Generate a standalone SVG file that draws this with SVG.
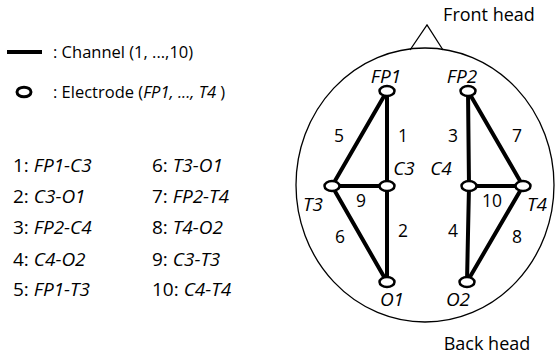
<svg xmlns="http://www.w3.org/2000/svg" width="557" height="361" viewBox="0 0 557 361">
<style>
text{font-family:"Open Sans","Liberation Sans",sans-serif;fill:#000}
.i{font-style:italic}
.lg{font-size:16.5px}
.ls{font-size:19px}
.hd{font-size:18px}
.lb{font-size:19px;font-style:italic}
.nm{font-size:17.5px}
.ch{stroke:#000;stroke-width:4;stroke-linecap:round;fill:none}
.el{fill:#fff;stroke:#000;stroke-width:2.5}
.head{fill:none;stroke:#000;stroke-width:1.3}
</style>
<rect width="557" height="361" fill="#fff"/>
<g id="legend">
<line x1="7" y1="52" x2="42" y2="52" stroke="#000" stroke-width="4"/>
<text class="lg" x="53" y="58">: Channel (1, ...,10)</text>
<ellipse cx="24" cy="92" rx="7" ry="4.8" fill="#fff" stroke="#000" stroke-width="3"/>
<text class="lg" x="53" y="98">: Electrode (<tspan class="i">FP1, ..., T4</tspan> )</text>
</g>
<g id="channel-list">
<text class="ls" x="13" y="172">1: <tspan class="i">FP1-C3</tspan></text>
<text class="ls" x="13" y="203">2: <tspan class="i">C3-O1</tspan></text>
<text class="ls" x="13" y="234">3: <tspan class="i">FP2-C4</tspan></text>
<text class="ls" x="13" y="266">4: <tspan class="i">C4-O2</tspan></text>
<text class="ls" x="13" y="296">5: <tspan class="i">FP1-T3</tspan></text>
<text class="ls" x="152" y="172">6: <tspan class="i">T3-O1</tspan></text>
<text class="ls" x="152" y="203">7: <tspan class="i">FP2-T4</tspan></text>
<text class="ls" x="152" y="234">8: <tspan class="i">T4-O2</tspan></text>
<text class="ls" x="152" y="266">9: <tspan class="i">C3-T3</tspan></text>
<text class="ls" x="152" y="296">10: <tspan class="i">C4-T4</tspan></text>
</g>
<g id="head">
<ellipse class="head" cx="425" cy="185" rx="129" ry="137"/>
<path class="head" d="M410,50 L427,25 L443,50"/>
<text class="hd" x="489" y="21" text-anchor="middle">Front head</text>
<text class="hd" x="487" y="350" text-anchor="middle">Back head</text>
</g>
<g id="connectors">
<line class="ch" x1="387" y1="91" x2="387" y2="186"/>
<line class="ch" x1="387" y1="186" x2="387" y2="282"/>
<line class="ch" x1="387" y1="91" x2="332" y2="186"/>
<line class="ch" x1="332" y1="186" x2="387" y2="282"/>
<line class="ch" x1="332" y1="186" x2="387" y2="186"/>
<line class="ch" x1="468" y1="91" x2="469" y2="186"/>
<line class="ch" x1="469" y1="186" x2="467" y2="282"/>
<line class="ch" x1="468" y1="91" x2="523" y2="186"/>
<line class="ch" x1="523" y1="186" x2="467" y2="282"/>
<line class="ch" x1="469" y1="186" x2="523" y2="186"/>
<text class="nm" x="339" y="142" text-anchor="middle">5</text>
<text class="nm" x="403" y="142" text-anchor="middle">1</text>
<text class="nm" x="453" y="142" text-anchor="middle">3</text>
<text class="nm" x="517" y="142" text-anchor="middle">7</text>
<text class="nm" x="361" y="207" text-anchor="middle">9</text>
<text class="nm" x="492" y="207" text-anchor="middle">10</text>
<text class="nm" x="340" y="243" text-anchor="middle">6</text>
<text class="nm" x="403" y="237" text-anchor="middle">2</text>
<text class="nm" x="453" y="237" text-anchor="middle">4</text>
<text class="nm" x="517" y="243" text-anchor="middle">8</text>
</g>
<g id="FP1"><ellipse class="el" cx="387" cy="91" rx="7.5" ry="5"/><text class="lb" x="386" y="83" text-anchor="middle">FP1</text></g>
<g id="FP2"><ellipse class="el" cx="468" cy="91" rx="7.5" ry="5"/><text class="lb" x="462" y="83" text-anchor="middle">FP2</text></g>
<g id="T3"><ellipse class="el" cx="332" cy="186" rx="7.5" ry="5"/><text class="lb" x="313" y="211" text-anchor="middle">T3</text></g>
<g id="C3"><ellipse class="el" cx="387" cy="186" rx="7.5" ry="5"/><text class="lb" x="404" y="175" text-anchor="middle">C3</text></g>
<g id="C4"><ellipse class="el" cx="469" cy="186" rx="7.5" ry="5"/><text class="lb" x="441" y="175" text-anchor="middle">C4</text></g>
<g id="T4"><ellipse class="el" cx="523" cy="186" rx="7.5" ry="5"/><text class="lb" x="537" y="211" text-anchor="middle">T4</text></g>
<g id="O1"><ellipse class="el" cx="387" cy="282" rx="7.5" ry="5"/><text class="lb" x="392" y="306" text-anchor="middle">O1</text></g>
<g id="O2"><ellipse class="el" cx="467" cy="282" rx="7.5" ry="5"/><text class="lb" x="458" y="306" text-anchor="middle">O2</text></g>
</svg>
